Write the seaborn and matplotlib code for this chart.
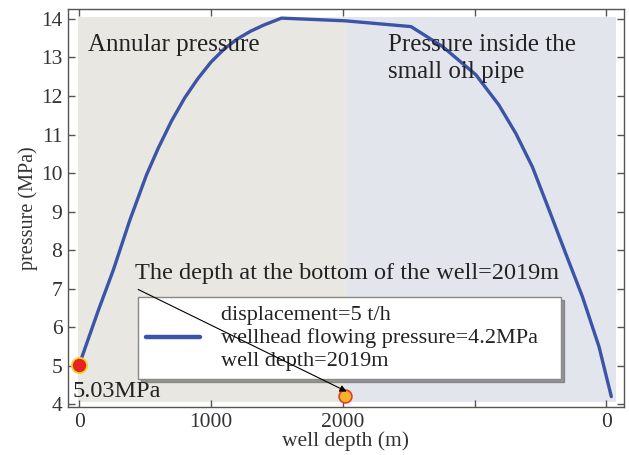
import matplotlib
matplotlib.use("Agg")
import matplotlib.pyplot as plt
import numpy as np
import pandas as pd
import seaborn as sns

# ---- data ----
depth = [0, 145, 258, 384, 510, 600, 700, 800, 900, 1000, 1100, 1200, 1300,
         1400, 1535, 2019, 2518, 2758, 3010, 3184, 3313, 3439, 3566, 3692,
         3819, 3945, 4038]
pressure = [5.03, 6.44, 7.48, 8.78, 9.95, 10.65, 11.35, 11.95, 12.45, 12.88,
            13.22, 13.48, 13.68, 13.84, 14.02, 13.95, 13.80, 13.28, 12.55,
            11.77, 11.03, 10.16, 9.04, 7.91, 6.79, 5.49, 4.2]

start_depth = [0]
start_pressure = [5.03]
bottom_depth = [2019]
bottom_pressure = [4.22]

xtick_values = [0, 1000, 2000, 3000, 4000]
xtick_labels = ["0", "1000", "2000", "", "0"]
ytick_values = [4, 5, 6, 7, 8, 9, 10, 11, 12, 13, 14]

legend_label = "displacement=5 t/h\nwellhead flowing pressure=4.2MPa\nwell depth=2019m"

sns.set_theme(style="ticks")
plt.rcParams["font.family"] = ["Liberation Serif", "DejaVu Serif"]

fig = plt.figure(figsize=(6.29, 4.55), dpi=100)
ax = fig.add_axes([0.108, 0.1055, 0.884, 0.875])

# background shading regions
ax.axvspan(-12, 2030, ymin=0.0126, ymax=0.98, color="#E8E7E1", lw=0, zorder=0)
ax.axvspan(2030, 4070, ymin=0.0126, ymax=0.98, color="#E3E5EC", lw=0, zorder=0)

df = pd.DataFrame({"depth": depth, "pressure": pressure})
sns.lineplot(data=df, x="depth", y="pressure", sort=False, estimator=None,
             color="#3B54A8", linewidth=2.4, ax=ax, label=legend_label, zorder=3)

sns.scatterplot(x=start_depth, y=start_pressure, s=120, color="#E8231E",
                edgecolor="#F3D22E", linewidth=1.3, ax=ax, zorder=4, legend=False)
sns.scatterplot(x=bottom_depth, y=bottom_pressure, s=85, color="#F6B42A",
                edgecolor="#E83A2A", linewidth=1.2, ax=ax, zorder=4, legend=False)

ax.set_xlim(-86, 4134)
ax.set_ylim(3.93, 14.26)
ax.set_xticks(xtick_values)
ax.set_xticklabels(xtick_labels)
ax.set_yticks(ytick_values)

ax.set_xlabel("well depth (m)", fontsize=15.5, color="#333333", labelpad=0)
ax.set_ylabel("pressure (MPa)", fontsize=14.5, color="#333333", labelpad=2)

ax.tick_params(direction="in", length=5, width=1, top=True, right=True,
               labelsize=15.5, labelcolor="#333333", color="#555555", pad=4)
for sp in ax.spines.values():
    sp.set_color("#555555")
    sp.set_linewidth(1.0)

txt_color = "#222222"
ax.text(66, 13.62, "Annular pressure", fontsize=18, color=txt_color,
        va="top", ha="left")
ax.text(2343, 13.62, "Pressure inside the\nsmall oil pipe", fontsize=18,
        color=txt_color, va="top", ha="left", linespacing=1.3)
ax.text(-48, 4.19, "5.03MPa", fontsize=17.5, color=txt_color,
        va="baseline", ha="left", zorder=6)
ax.text(422, 7.26, "The depth at the bottom of the well=2019m", fontsize=17.5,
        color=txt_color, va="baseline", ha="left")

leg = ax.legend(loc="lower left", bbox_to_anchor=(0.126, 0.07, 0.761, 0.2),
                mode="expand", borderaxespad=0, fontsize=16, frameon=True,
                fancybox=False, shadow=True, edgecolor="#888888",
                facecolor="white", framealpha=1, handlelength=2.4,
                handletextpad=0.95, borderpad=0.38)
leg.get_frame().set_linewidth(1.0)
for t in leg.get_texts():
    t.set_color(txt_color)
    t.set_linespacing(1.25)
for ln in leg.get_lines():
    ln.set_linewidth(3.2)
leg.set_zorder(5)

ax.annotate("", xy=(2030, 4.33), xytext=(447, 6.98),
            arrowprops=dict(arrowstyle="-|>", color="black", lw=0.8,
                            mutation_scale=10, shrinkA=0, shrinkB=0),
            zorder=7)

fig.savefig("out.png", dpi=100)
